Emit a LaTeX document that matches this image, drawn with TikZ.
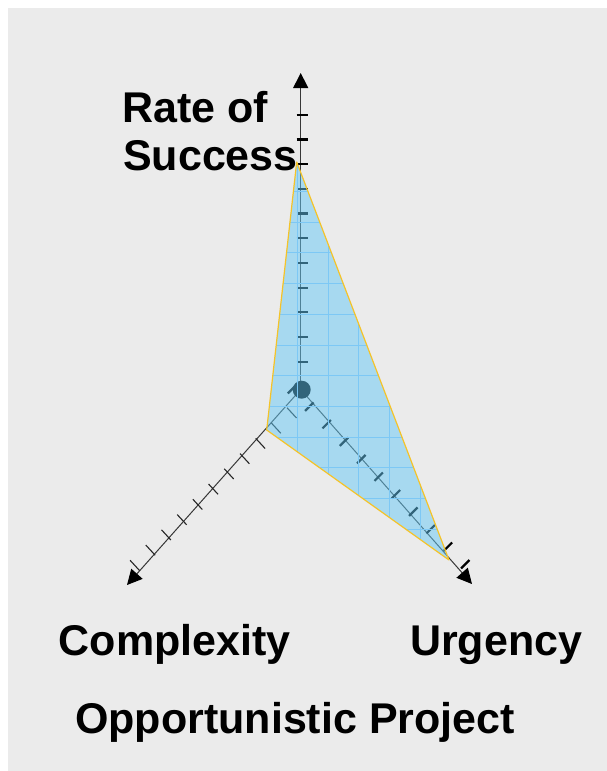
\documentclass[tikz,border=0pt]{standalone}
\usepackage{fontspec}
\setmainfont{Liberation Sans}
\usetikzlibrary{arrows.meta}
\definecolor{bggray}{RGB}{235,235,235}
\definecolor{polyblue}{RGB}{101,201,245}
\definecolor{gridblue}{RGB}{125,200,245}
\definecolor{edgegold}{RGB}{245,195,40}
\definecolor{axisgray}{RGB}{55,55,55}
\begin{document}
\begin{tikzpicture}[x=1pt,y=-1pt,
  lab/.style={font=\fontsize{43}{48}\selectfont\bfseries, inner sep=0pt, anchor=base west},
  axisline/.style={draw=axisgray, line width=1pt, -{Triangle[length=15pt,width=15pt,color=black]}},
  thicktick/.style={draw=black, line width=2.2pt},
  thintick/.style={draw=black!85, line width=1.1pt},
  gridline/.style={draw=gridblue, line width=0.9pt}]
\useasboundingbox (0,0) rectangle (607,771);
\fill[bggray] (8,8) rectangle (607,771);

\coordinate (O) at (300.7,389.5);
\coordinate (tipR) at (300.7,73);
\coordinate (tipC) at (127,585);
\coordinate (tipU) at (472,584);

% axes
\draw[axisline] (O) -- (tipR);
\draw[axisline] (O) -- (tipC);
\draw[axisline] (O) -- (tipU);

% ticks
\foreach \k in {0,...,10}{
  \draw[thicktick] ({296.7},{361.7-24.7*\k}) -- ({307.7},{361.7-24.7*\k});
  \draw[thicktick] ({292+17.33*\k-4.2},{389.2+17.5*\k+4.2}) -- ({292+17.33*\k+4.2},{389.2+17.5*\k-4.2});
  \draw[thintick] ({292.1-15.7*\k-5},{413.2+15.25*\k-5.4}) -- ({292.1-15.7*\k+4.4},{413.2+15.25*\k+4.8});
}

% centre dot
\fill[black] (301.7,389.7) circle[radius=9pt];

% data polygon
\coordinate (pR) at (296.7,162);
\coordinate (pU) at (449,560);
\coordinate (pC) at (266.7,430);
\fill[polyblue, fill opacity=0.5] (pR) -- (pU) -- (pC) -- cycle;
\begin{scope}
  \clip (pR) -- (pU) -- (pC) -- cycle;
  \foreach \k in {-1,...,13}{
    \draw[gridline] (250,{191.5+30.7*\k}) -- (460,{191.5+30.7*\k});
  }
  \foreach \k in {-2,...,6}{
    \draw[gridline] ({297.5+30.7*\k},150) -- ({297.5+30.7*\k},570);
  }
\end{scope}
\draw[edgegold, line width=1.2pt, line join=round] (pR) -- (pU) -- (pC) -- cycle;

% labels
\node[lab] (rate) at (122,122) {Rate of};
\node[lab] (succ) at (123,170) {Success};
\node[lab] (cplx) at (58.5,655) {Complexity};
\node[lab] (urg) at (410,655) {Urgency};
\node[lab] (title) at (75,733) {Opportunistic Project};
\end{tikzpicture}
\end{document}
